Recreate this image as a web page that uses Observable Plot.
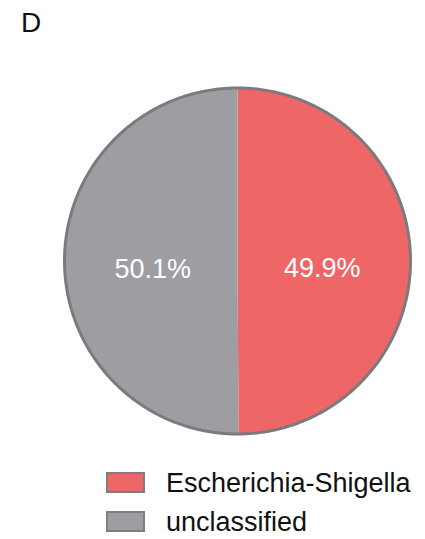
<!DOCTYPE html>
<html>
<head>
<meta charset="utf-8">
<script src="https://cdn.jsdelivr.net/npm/d3@7"></script>
<script src="https://cdn.jsdelivr.net/npm/@observablehq/plot@0.6"></script>
<style>
  html, body { margin: 0; padding: 0; background: #fff; }
  #wrap { position: relative; width: 425px; height: 539px; font-family: "Liberation Sans", Arial, Helvetica, sans-serif; }
  #panel { position: absolute; left: 21px; top: 9px; font-size: 28px; line-height: 28px; color: #111; }
  #chart { position: absolute; left: 0; top: 0; }
  .row { position: absolute; left: 106px; height: 24px; display: flex; align-items: center; }
  .sw { box-sizing: border-box; width: 39px; height: 21px; border: 2.5px solid #7d7d82; }
  .lab { position: absolute; left: 60px; font-size: 27px; line-height: 27px; color: #111; white-space: nowrap; }
</style>
</head>
<body>
<div id="wrap">
  <div id="panel">D</div>
  <div id="chart"></div>
  <div id="legend"></div>
</div>
<script>
const categories = ["Escherichia-Shigella", "unclassified"];
const values = [49.9, 50.1];
const labels = ["49.9%", "50.1%"];
const colors = ["#EE6766", "#9E9DA2"];
const outline = "#7a7a7f";

const pie = d3.pie().sort(null).value(d => d.value).startAngle(0).endAngle(2 * Math.PI);
const arcs = pie(categories.map((c, i) => ({category: c, value: values[i], label: labels[i]})));

const slicePts = [];
const rimPts = [];
for (const a of arcs) {
  const n = Math.max(2, Math.ceil((a.endAngle - a.startAngle) / (Math.PI / 360)));
  slicePts.push({category: a.data.category, x: 0, y: 0});
  for (let k = 0; k <= n; k++) {
    const t = a.startAngle + (a.endAngle - a.startAngle) * k / n;
    const p = {category: a.data.category, x: Math.sin(t), y: Math.cos(t)};
    slicePts.push(p);
    rimPts.push(p);
  }
}
const labelPts = arcs.map(a => {
  const m = (a.startAngle + a.endAngle) / 2;
  return {category: a.data.category, label: a.data.label, x: 0.49 * Math.sin(m), y: 0.49 * Math.cos(m)};
});

const W = 425, H = 460;
const cx = 237, cy = 260.5, r = 173;
const plot = Plot.plot({
  width: W,
  height: H,
  marginLeft: cx - r,
  marginRight: W - (cx + r),
  marginTop: cy - r,
  marginBottom: H - (cy + r),
  x: {domain: [-1, 1], axis: null},
  y: {domain: [-1, 1], axis: null},
  color: {domain: categories, range: colors},
  style: {fontFamily: '"Liberation Sans", Arial, Helvetica, sans-serif', background: "transparent"},
  marks: [
    Plot.line(slicePts, {x: "x", y: "y", z: "category", fill: "category", stroke: "none", curve: "linear-closed"}),
    Plot.line(rimPts, {x: "x", y: "y", stroke: outline, strokeWidth: 3, curve: "linear-closed"}),
    Plot.text(labelPts, {x: "x", y: "y", text: "label", fill: "white", fontSize: 27, dy: 8})
  ]
});
document.getElementById("chart").appendChild(plot);

const legend = document.getElementById("legend");
const rowTops = [470, 509];
categories.forEach((c, i) => {
  const row = document.createElement("div");
  row.className = "row";
  row.style.top = rowTops[i] + "px";
  const sw = document.createElement("div");
  sw.className = "sw";
  sw.style.background = colors[i];
  const lab = document.createElement("div");
  lab.className = "lab";
  lab.style.top = "0px";
  lab.textContent = c;
  row.appendChild(sw);
  row.appendChild(lab);
  legend.appendChild(row);
});
</script>
</body>
</html>
